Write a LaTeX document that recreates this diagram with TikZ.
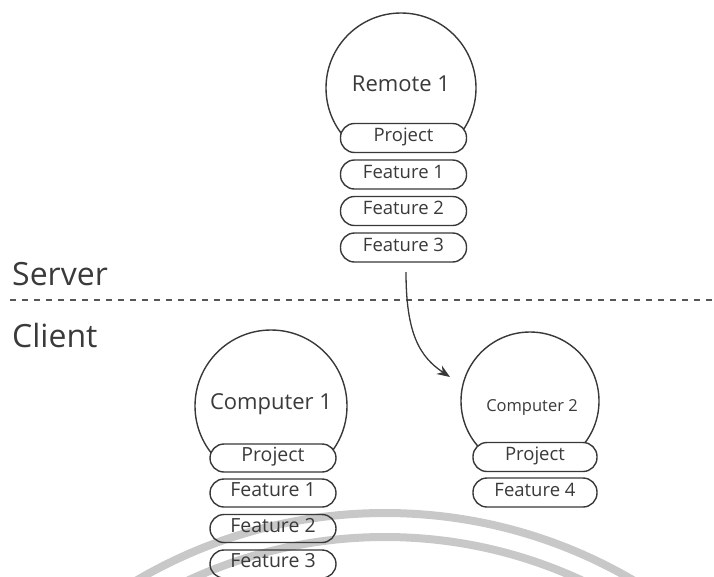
\documentclass[tikz,border=0pt]{standalone}
\usepackage{fontspec}
\setmainfont{Open Sans}
\usetikzlibrary{arrows.meta}
\definecolor{ln}{HTML}{383838}
\definecolor{txt}{HTML}{3A3A3A}
\definecolor{bleed}{HTML}{C8C8C8}
\begin{document}
\begin{tikzpicture}[x=1pt,y=-1pt,
  bubble/.style={circle, draw=ln, line width=1.4pt, inner sep=0pt},
  bubtext/.style={inner sep=0pt, text=txt, text height=0.714em, text depth=0pt},
  pill/.style={draw=ln, line width=1.4pt, rounded corners=14pt, inner sep=0pt,
    text=txt, text height=0.714em, text depth=0pt},
  rpill/.style={pill, minimum width=126pt, minimum height=29pt, font=\fontsize{18.5}{20}\selectfont},
  apill/.style={pill, minimum width=126pt, minimum height=28pt, font=\fontsize{19.5}{21}\selectfont},
  bpill/.style={pill, minimum width=124pt, minimum height=29pt, font=\fontsize{18.5}{20}\selectfont},
  side/.style={inner sep=0pt, anchor=base west, text=txt, font=\fontsize{32}{34}\selectfont},
  bleedarc/.style={draw=bleed, line width=8pt},
  sep/.style={draw=ln!85, line width=1.5pt, dash pattern=on 6pt off 6pt},
  flow/.style={draw=ln, line width=1.3pt, -{Stealth[length=13pt, width=10pt]}}
]
\useasboundingbox (0,0) rectangle (714,576);

% faint show-through arcs
\begin{scope}
  \clip (0,0) rectangle (714,576);
  \draw[bleedarc] (385,1004) circle[radius=491];
  \draw[bleedarc] (385,1004) circle[radius=467];
\end{scope}

% Server / Client separator
\node[side] (server) at (12,285) {Server};
\node[side] (client) at (12,347) {Client};
\coordinate (sepl) at (10,300);
\coordinate (sepr) at (714,300);
\draw[sep] (sepl) -- (sepr);

% Remote 1
\begin{scope}
  \clip (0,0) rectangle (714,138);
  \node[bubble, minimum size=150pt] (r) at (401,88) {};
\end{scope}
\node[bubtext, font=\fontsize{22}{24}\selectfont] (rl) at (r.center) {Remote 1};
\node[rpill, fill=white] (rp) at (403.5,138) {Project};
\node[rpill] (r1) at (403.5,174.5) {Feature 1};
\node[rpill] (r2) at (403.5,211) {Feature 2};
\node[rpill] (r3) at (403.5,247.5) {Feature 3};

% Computer 1
\begin{scope}
  \clip (0,0) rectangle (714,458);
  \node[bubble, minimum size=152pt] (a) at (271,406) {};
\end{scope}
\node[bubtext, font=\fontsize{22}{24}\selectfont] (al) at (a.center) {Computer 1};
\node[apill, fill=white] (ap) at (273,458) {Project};
\node[apill] (a1) at (273,493) {Feature 1};
\node[apill] (a2) at (273,528.5) {Feature 2};
\node[apill] (a3) at (273,564) {Feature 3};

% Computer 2
\begin{scope}
  \clip (0,0) rectangle (714,457);
  \node[bubble, minimum size=138pt] (b) at (530,401) {};
\end{scope}
\node[bubtext, font=\fontsize{16.5}{18}\selectfont] (bl) at (532,408) {Computer 2};
\node[bpill, fill=white] (bp) at (535,457) {Project};
\node[bpill] (b4) at (535,492.5) {Feature 4};

% arrow
\coordinate (astart) at ([xshift=2.5pt,yshift=-9.5pt]r3.south);
\coordinate (aend) at (450,377);
\draw[flow] (astart) .. controls +(0,62) and +(-30,-20) .. (aend);
\end{tikzpicture}
\end{document}
